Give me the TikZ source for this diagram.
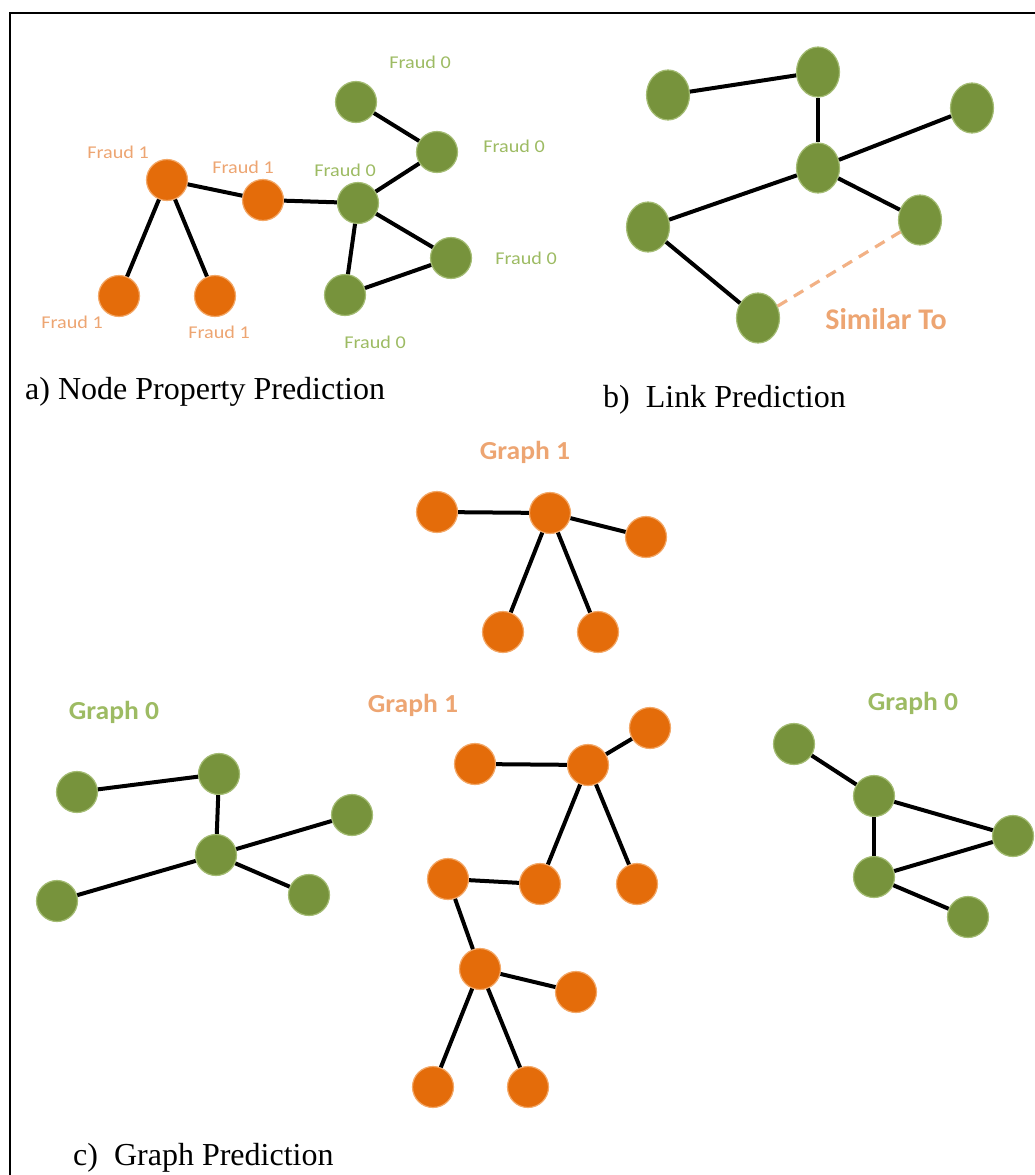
\documentclass[tikz,border=0pt]{standalone}
\usepackage{fontspec}
\setmainfont{Liberation Serif}
\newfontfamily\labfont{Carlito}
\usetikzlibrary{shapes.geometric}

\definecolor{nodeorange}{HTML}{E46C0A}
\definecolor{nodegreen}{HTML}{77933C}
\definecolor{rimorange}{HTML}{F3A868}
\definecolor{rimgreen}{HTML}{A4BC74}
\definecolor{txtorange}{HTML}{EDA572}
\definecolor{txtgreen}{HTML}{9DBB63}
\definecolor{dashorange}{HTML}{F2B185}

\tikzset{
  onode/.style={circle, fill=nodeorange, draw=rimorange, line width=1.2pt, minimum size=41pt, inner sep=0pt},
  gnode/.style={circle, fill=nodegreen, draw=rimgreen, line width=1.2pt, minimum size=41pt, inner sep=0pt},
  enode/.style={ellipse, fill=nodegreen, draw=rimgreen, line width=1.2pt, minimum width=43pt, minimum height=50pt, inner sep=0pt},
  edge/.style={line width=4pt, black},
  simlink/.style={line width=3.2pt, dashorange, dash pattern=on 11pt off 8pt},
  flab/.style={font=\labfont\fontsize{18}{20}\selectfont, xscale=1.12, inner sep=0pt},
  flabo/.style={flab, text=txtorange},
  flabg/.style={flab, text=txtgreen},
  glab/.style={font=\labfont\bfseries\fontsize{26}{28}\selectfont, xscale=1.06, inner sep=0pt},
  caption/.style={font=\fontsize{32}{34}\selectfont, anchor=base west, inner sep=0pt},
}

\begin{document}
\begin{tikzpicture}[x=1pt, y=-1pt]
\useasboundingbox (0,0) rectangle (1035,1175);

% outer frame (top and left edges)
\coordinate (fl) at (10,1175);
\coordinate (ftl) at (10,13);
\coordinate (ftr) at (1035,13);
\draw[line width=2.6pt] (fl) -- (ftl) -- (ftr);

% ---------- a) node property prediction ----------
\node[onode] (o1) at (167,180) {};
\node[onode] (o2) at (263,200) {};
\node[onode] (o3) at (119,296) {};
\node[onode] (o4) at (215,296) {};
\node[gnode] (g1) at (356,102) {};
\node[gnode] (g2) at (437,152) {};
\node[gnode] (g3) at (358,203) {};
\node[gnode] (g4) at (451,258) {};
\node[gnode] (g5) at (345,295) {};

\draw[edge] (o1) -- (o2);
\draw[edge] (o1) -- (o3);
\draw[edge] (o1) -- (o4);
\draw[edge] (o2) -- (g3);
\draw[edge] (g3) -- (g2);
\draw[edge] (g2) -- (g1);
\draw[edge] (g3) -- (g4);
\draw[edge] (g3) -- (g5);
\draw[edge] (g5) -- (g4);

\node[flabo] (lo1) at (118,152) {Fraud 1};
\node[flabo] (lo2) at (243,167) {Fraud 1};
\node[flabo] (lo3) at (72,322) {Fraud 1};
\node[flabo] (lo4) at (219,332) {Fraud 1};
\node[flabg] (lg1) at (420,62) {Fraud 0};
\node[flabg] (lg2) at (514,146) {Fraud 0};
\node[flabg] (lg3) at (345,170) {Fraud 0};
\node[flabg] (lg4) at (526,258) {Fraud 0};
\node[flabg] (lg5) at (375,342) {Fraud 0};

\node[caption] (capa) at (25,399) {a) Node Property Prediction};

% ---------- b) link prediction ----------
\node[enode] (b1) at (668,95) {};
\node[enode] (b2) at (818,72) {};
\node[enode] (b3) at (972,108) {};
\node[enode] (b4) at (818,168) {};
\node[enode] (b5) at (648,227) {};
\node[enode] (b6) at (920,220) {};
\node[enode] (b7) at (758,318) {};

\draw[edge] (b1) -- (b2);
\draw[edge] (b2) -- (b4);
\draw[edge] (b4) -- (b3);
\draw[edge] (b4) -- (b5);
\draw[edge] (b4) -- (b6);
\draw[edge] (b5) -- (b7);
\draw[simlink] (b7) -- (b6);

\node[font=\labfont\bfseries\fontsize{30}{32}\selectfont, text=txtorange, inner sep=0pt] (sim) at (886,319) {Similar To};

\node[caption] (capb) at (603,407) {b)\ \ Link Prediction};

% ---------- c) graph prediction ----------
% graph 1 (top)
\node[glab, text=txtorange] (gt) at (525,452) {Graph 1};
\node[onode] (t1) at (437,512) {};
\node[onode] (t2) at (550,513) {};
\node[onode] (t3) at (646,537) {};
\node[onode] (t4) at (503,632) {};
\node[onode] (t5) at (598,632) {};
\draw[edge] (t1) -- (t2);
\draw[edge] (t2) -- (t3);
\draw[edge] (t2) -- (t4);
\draw[edge] (t2) -- (t5);

% graph 0 (left)
\node[glab, text=txtgreen] (gl) at (114,712) {Graph 0};
\node[gnode] (l1) at (77,792) {};
\node[gnode] (l2) at (219,774) {};
\node[gnode] (l3) at (352,815) {};
\node[gnode] (l4) at (216,855) {};
\node[gnode] (l5) at (57,901) {};
\node[gnode] (l6) at (309,895) {};
\draw[edge] (l1) -- (l2);
\draw[edge] (l2) -- (l4);
\draw[edge] (l4) -- (l3);
\draw[edge] (l4) -- (l5);
\draw[edge] (l4) -- (l6);

% graph 1 (middle)
\node[glab, text=txtorange] (gm) at (413,705) {Graph 1};
\node[onode] (m1) at (475,764) {};
\node[onode] (m2) at (588,765) {};
\node[onode] (m3) at (650,728) {};
\node[onode] (m4) at (448,879) {};
\node[onode] (m5) at (540,884) {};
\node[onode] (m6) at (637,884) {};
\node[onode] (m7) at (480,969) {};
\node[onode] (m8) at (576,992) {};
\node[onode] (m9) at (433,1087) {};
\node[onode] (m10) at (528,1087) {};
\draw[edge] (m1) -- (m2);
\draw[edge] (m2) -- (m3);
\draw[edge] (m2) -- (m5);
\draw[edge] (m2) -- (m6);
\draw[edge] (m4) -- (m5);
\draw[edge] (m4) -- (m7);
\draw[edge] (m7) -- (m8);
\draw[edge] (m7) -- (m9);
\draw[edge] (m7) -- (m10);

% graph 0 (right)
\node[glab, text=txtgreen] (gr) at (913,703) {Graph 0};
\node[gnode] (r1) at (794,744) {};
\node[gnode] (r2) at (874,796) {};
\node[gnode] (r3) at (1013,836) {};
\node[gnode] (r4) at (874,877) {};
\node[gnode] (r5) at (968,917) {};
\draw[edge] (r1) -- (r2);
\draw[edge] (r2) -- (r3);
\draw[edge] (r2) -- (r4);
\draw[edge] (r4) -- (r3);
\draw[edge] (r4) -- (r5);

\node[caption] (capc) at (73,1165) {c)\ \ Graph Prediction};
\end{tikzpicture}
\end{document}
